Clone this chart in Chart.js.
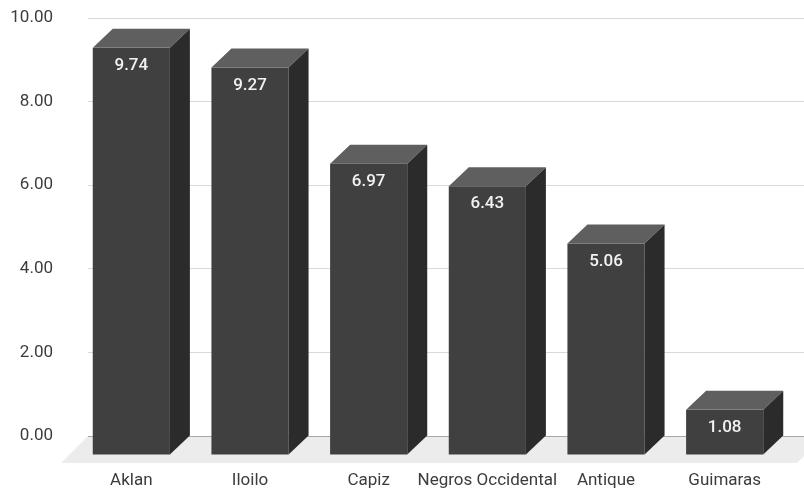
<!DOCTYPE html>
<html>
<head>
<meta charset="utf-8">
<script src="https://cdn.jsdelivr.net/npm/chart.js@4"></script>
<style>
  html, body { margin: 0; padding: 0; background: #fff; }
  #wrap { width: 804px; height: 493px; }
</style>
</head>
<body>
<div id="wrap"><canvas id="myChart" width="804" height="493"></canvas></div>
<script>
const provinces = ["Aklan", "Iloilo", "Capiz", "Negros Occidental", "Antique", "Guimaras"];
const values = [9.74, 9.27, 6.97, 6.43, 5.06, 1.08];
const yTicks = [0, 2, 4, 6, 8, 10];

// depth of the fake 3d boxes
const DX = 20, DY = 19;

const floorPlugin = {
  id: "floor",
  beforeDraw(chart) {
    const ctx = chart.ctx;
    const base = chart.scales.y.getPixelForValue(0);
    const left = chart.chartArea.left - 4;
    const d = 27;
    ctx.save();
    ctx.fillStyle = "#ececec";
    ctx.beginPath();
    ctx.moveTo(left, base);
    ctx.lineTo(chart.width + 20, base);
    ctx.lineTo(chart.width + 20 - d, base + d);
    ctx.lineTo(left - d, base + d);
    ctx.closePath();
    ctx.fill();
    ctx.restore();
  }
};

const boxPlugin = {
  id: "boxes",
  afterDatasetsDraw(chart) {
    const ctx = chart.ctx;
    const meta = chart.getDatasetMeta(0);
    meta.data.forEach((bar, i) => {
      const w = bar.width;
      const x0 = bar.x - w / 2 - DX;
      const x1 = bar.x + w / 2 - DX;
      const top = bar.y + DY;
      const bottom = bar.base + DY;
      ctx.save();
      // front
      ctx.fillStyle = "#404040";
      ctx.fillRect(x0, top, w, bottom - top);
      // top
      ctx.fillStyle = "#5f5f5f";
      ctx.beginPath();
      ctx.moveTo(x0, top);
      ctx.lineTo(x1, top);
      ctx.lineTo(x1 + DX, top - DY);
      ctx.lineTo(x0 + DX, top - DY);
      ctx.closePath();
      ctx.fill();
      // side
      ctx.fillStyle = "#2b2b2b";
      ctx.beginPath();
      ctx.moveTo(x1, top);
      ctx.lineTo(x1 + DX, top - DY);
      ctx.lineTo(x1 + DX, bar.base);
      ctx.lineTo(x1, bottom);
      ctx.closePath();
      ctx.fill();
      // value label
      ctx.fillStyle = "#f2f2f2";
      ctx.font = "500 17px Roboto";
      ctx.textAlign = "center";
      ctx.textBaseline = "middle";
      ctx.fillText(values[i].toFixed(2), (x0 + x1) / 2, top + 18);
      ctx.restore();
    });
  }
};

const ctx = document.getElementById("myChart").getContext("2d");
const chart = new Chart(ctx, {
  type: "bar",
  data: {
    labels: provinces,
    datasets: [
      {
        data: values,
        backgroundColor: "rgba(0,0,0,0)",
        barPercentage: 0.65,
        categoryPercentage: 1
      }
    ]
  },
  options: {
    responsive: false,
    animation: false,
    layout: { autoPadding: false, padding: { top: 18, right: 0, left: 10, bottom: 5 } },
    plugins: {
      legend: { display: false },
      tooltip: { enabled: false }
    },
    scales: {
      x: {
        grid: { display: false },
        border: { display: false },
        afterFit(scale) { scale.height = 52; scale.paddingLeft = 0; scale.paddingRight = 0; },
        ticks: {
          color: "#3c3c3c",
          padding: 27,
          autoSkip: false,
          maxRotation: 0,
          labelOffset: -DX,
          font: { family: "Roboto", size: 17 }
        }
      },
      y: {
        min: yTicks[0],
        max: yTicks[yTicks.length - 1],
        afterBuildTicks(scale) {
          scale.ticks = yTicks.map(v => ({ value: v }));
        },
        afterFit(scale) { scale.width = 82; scale.paddingTop = 0; scale.paddingBottom = 0; },
        grid: {
          color: c => (c.tick && c.tick.value === 0 ? "#a8a8a8" : "#d9d9d9"),
          tickLength: 4
        },
        border: { display: false },
        ticks: {
          color: "#3c3c3c",
          padding: 35,
          font: { family: "Roboto", size: 17 },
          callback: v => v.toFixed(2)
        }
      }
    }
  },
  plugins: [floorPlugin, boxPlugin]
});
</script>
</body>
</html>
